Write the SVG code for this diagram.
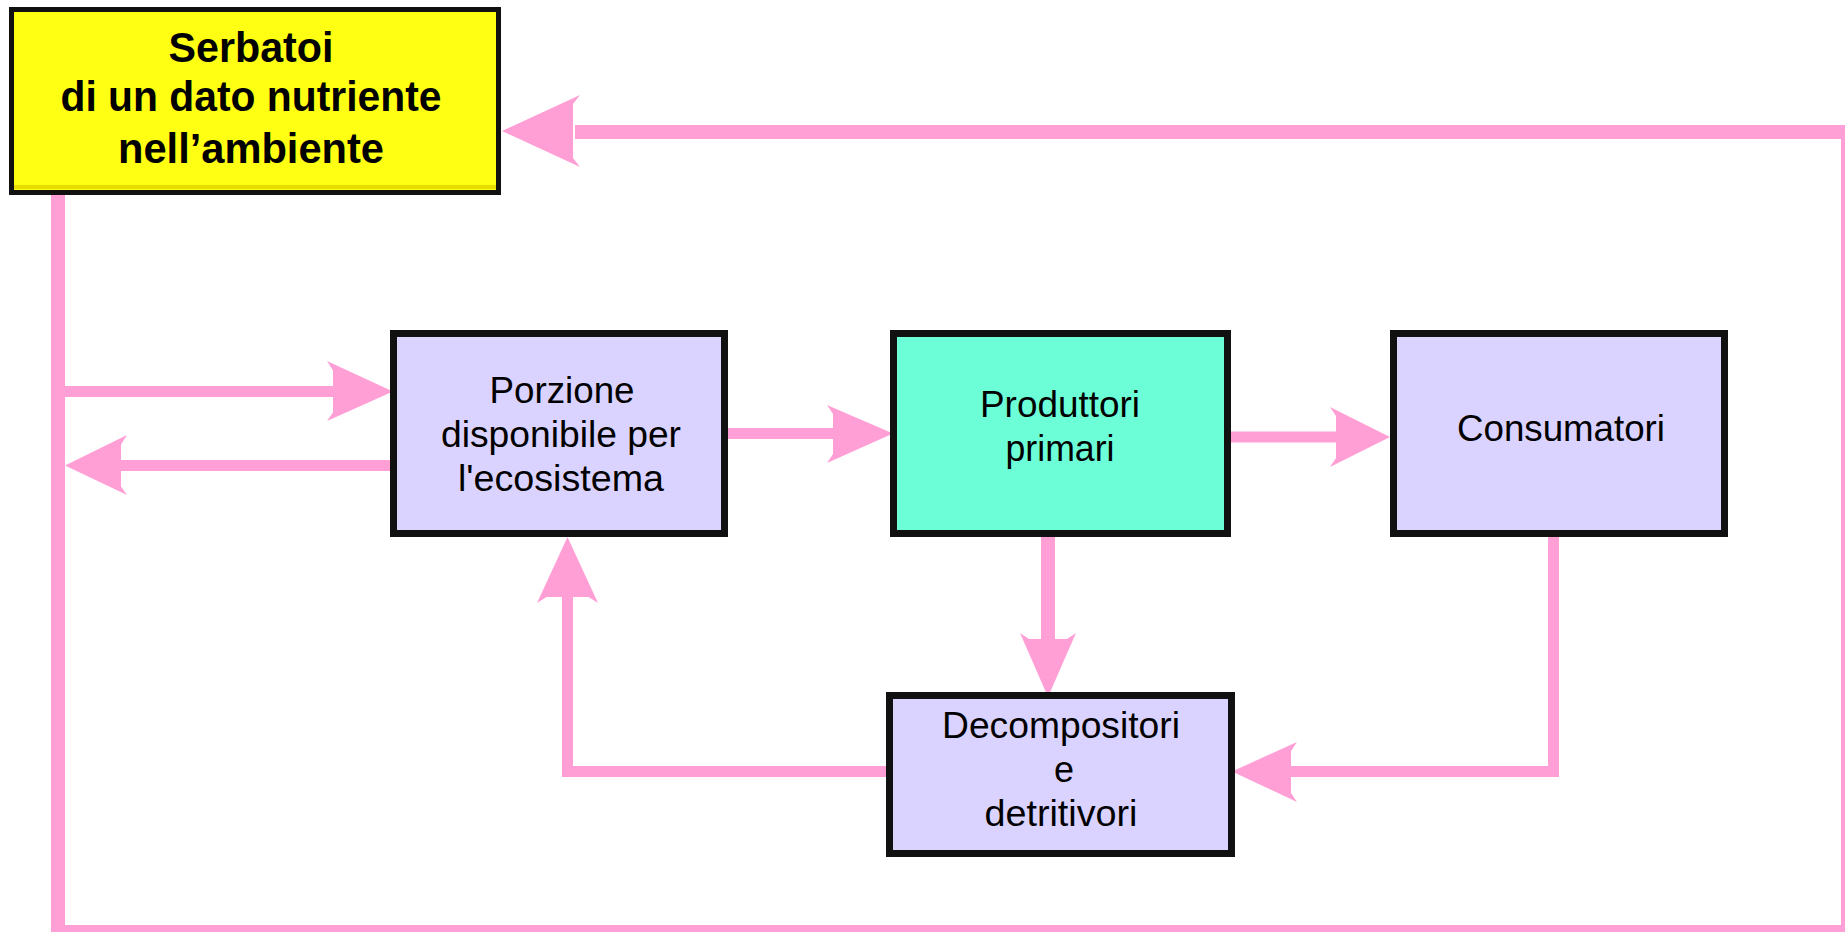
<svg xmlns="http://www.w3.org/2000/svg" width="1845" height="932" viewBox="0 0 1845 932">
<defs>
<style>
.box{stroke:#111;stroke-width:7}
.lav{fill:#DAD3FF}
.t{font-family:"Liberation Sans",Arial,sans-serif;font-size:36px;fill:#000;text-anchor:middle}
.tb{font-family:"Liberation Sans",Arial,sans-serif;font-size:42px;font-weight:bold;fill:#000;text-anchor:middle}
.ln{fill:none;stroke:#FF9FD6;stroke-width:11;stroke-linejoin:miter;stroke-linecap:butt}
.big{stroke-width:14}
.ah{fill:#FF9FD6}
</style>
</defs>
<rect width="1845" height="932" fill="#fff"/>
<g id="connectors">
<path class="ln big" d="M 575 132 H 1848 V 932 H 58 V 193"/>
<polygon class="ah" points="502,131 580,95 573,104 573,158 580,167"/>
<path class="ln" d="M 65 391.5 H 340"/>
<polygon class="ah" points="393,391.5 327,361 333,370.5 333,412.5 327,421"/>
<path class="ln" d="M 391 465.5 H 115"/>
<polygon class="ah" points="65,465.5 127,435 121,444.5 121,486.5 127,495"/>
<path class="ln" d="M 721 433.5 H 840"/>
<polygon class="ah" points="893,433.5 827,405 833,414 833,454 827,463"/>
<path class="ln" d="M 1228 437 H 1343"/>
<polygon class="ah" points="1390,437 1330,407 1336,416 1336,458 1330,467"/>
<path class="ln big" d="M 1048 534 V 645"/>
<polygon class="ah" points="1048,697 1020,633 1029,639 1067,639 1076,633"/>
<path class="ln" d="M 1553.5 534 V 771.5 H 1285"/>
<polygon class="ah" points="1232,771.5 1297,742 1291,751 1291,793 1297,802"/>
<path class="ln" d="M 890 771.5 H 567.5 V 590"/>
<polygon class="ah" points="567.5,537 537,603 546.5,597 588.5,597 598,603"/>
</g>
<g id="serbatoi">
<rect x="11.5" y="9.5" width="487" height="183" fill="#FFFF14" stroke="#111" stroke-width="5"/>
<rect x="14" y="185" width="482" height="4" fill="#E6DC00"/>
<text class="tb" x="251" y="62" textLength="165" lengthAdjust="spacingAndGlyphs">Serbatoi</text>
<text class="tb" x="251" y="111" textLength="381" lengthAdjust="spacingAndGlyphs">di un dato nutriente</text>
<text class="tb" x="251" y="163" textLength="266" lengthAdjust="spacingAndGlyphs">nell’ambiente</text>
</g>
<g id="porzione">
<rect class="box lav" x="393.5" y="333.5" width="331" height="200"/>
<text class="t" x="562" y="403" textLength="145" lengthAdjust="spacingAndGlyphs">Porzione</text>
<text class="t" x="561" y="447" textLength="240" lengthAdjust="spacingAndGlyphs">disponibile per</text>
<text class="t" x="561" y="491" textLength="206" lengthAdjust="spacingAndGlyphs">l'ecosistema</text>
</g>
<g id="produttori">
<rect class="box" x="893.5" y="333.5" width="334" height="200" fill="#6CFFD7"/>
<text class="t" x="1060" y="417" textLength="160" lengthAdjust="spacingAndGlyphs">Produttori</text>
<text class="t" x="1060" y="461" textLength="109" lengthAdjust="spacingAndGlyphs">primari</text>
</g>
<g id="consumatori">
<rect class="box lav" x="1393.5" y="333.5" width="331" height="200"/>
<text class="t" x="1561" y="441" textLength="208" lengthAdjust="spacingAndGlyphs">Consumatori</text>
</g>
<g id="decompositori">
<rect class="box lav" x="889.5" y="695.5" width="342" height="158"/>
<text class="t" x="1061" y="738" textLength="238" lengthAdjust="spacingAndGlyphs">Decompositori</text>
<text class="t" x="1064" y="782">e</text>
<text class="t" x="1061" y="826" textLength="153" lengthAdjust="spacingAndGlyphs">detritivori</text>
</g>
</svg>
